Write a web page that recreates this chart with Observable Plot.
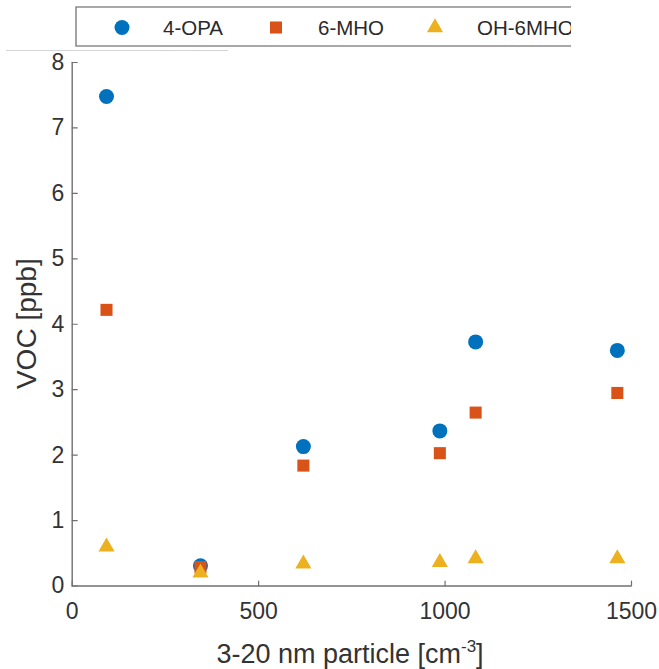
<!DOCTYPE html>
<html>
<head>
<meta charset="utf-8">
<script src="https://cdn.jsdelivr.net/npm/d3@7"></script>
<script src="https://cdn.jsdelivr.net/npm/@observablehq/plot@0.6"></script>
<style>
  html, body { margin: 0; padding: 0; background: #fff; }
  #chart { width: 659px; height: 669px; overflow: hidden; }
</style>
</head>
<body>
<div id="chart"></div>
<script>
// ---- data ----
const series = ["4-OPA", "6-MHO", "OH-6MHO"];
const seriesColors = ["#0072BD", "#D95319", "#EDB120"];
const particles = [92, 344, 620, 986, 1082, 1462];
const opa = [7.48, 0.31, 2.13, 2.37, 3.73, 3.60];
const mho = [4.22, 0.29, 1.84, 2.03, 2.65, 2.95];
const ohMho = [0.60, 0.20, 0.34, 0.36, 0.42, 0.42];
const xTicks = [0, 500, 1000, 1500];
const yTicks = [0, 1, 2, 3, 4, 5, 6, 7, 8];
const xTitle = "3-20 nm particle [cm";
const xTitleSup = "-3";
const yTitle = "VOC [ppb]";

// ---- build ----
const valueSets = [opa, mho, ohMho];
const sets = valueSets.map(vals => vals.map((v, i) => ({x: particles[i], y: v})));
const symbols = ["circle", "square", "triangle"];
const radii = [7.5, 6.8, 6.0];

const font = "'Liberation Sans', Arial, Helvetica, sans-serif";
const axisColor = "#707070";
const textColor = "#333";
const tickShape = {draw(ctx, l) { ctx.moveTo(0, 0); ctx.lineTo(0, -l); }};
const fmt = d => String(d);

const plot = Plot.plot({
  width: 659,
  height: 669,
  marginLeft: 71.7,
  marginRight: 28,
  marginTop: 62,
  marginBottom: 83.5,
  style: {fontFamily: font, background: "#fff"},
  x: {domain: [0, 1500]},
  y: {domain: [0, 8]},
  marks: [
    Plot.ruleX([0], {stroke: axisColor, strokeWidth: 1.4}),
    Plot.ruleY([0], {stroke: axisColor, strokeWidth: 1.4}),
    Plot.vector(yTicks, {x: 0, y: d => d, length: 5, rotate: 90, anchor: "start", shape: tickShape, stroke: axisColor, strokeWidth: 1.2}),
    Plot.vector(xTicks, {x: d => d, y: 0, length: 5, rotate: 0, anchor: "start", shape: tickShape, stroke: axisColor, strokeWidth: 1.2}),
    Plot.axisY(yTicks, {tickSize: 0, tickPadding: 8, fontSize: 23, fill: textColor, label: null, tickFormat: fmt}),
    Plot.axisX(xTicks, {tickSize: 0, tickPadding: 17, fontSize: 23, fill: textColor, label: null, tickFormat: fmt}),
    ...sets.map((d, i) => Plot.dot(d, {x: "x", y: "y", symbol: symbols[i], fill: seriesColors[i], r: radii[i], stroke: "none"}))
  ]
});

document.getElementById("chart").appendChild(plot);

const svg = d3.select(plot);

// faint line at top left
svg.append("line").attr("x1", 6).attr("x2", 228).attr("y1", 50.5).attr("y2", 50.5)
  .attr("stroke", "#d4d4d4").attr("stroke-width", 1);

// y title
svg.append("text")
  .attr("transform", "translate(36,323.7) rotate(-90)")
  .attr("text-anchor", "middle")
  .attr("font-family", font).attr("font-size", 28).attr("fill", textColor)
  .text(yTitle);

// x title with superscript
const xt = svg.append("text")
  .attr("x", 350).attr("y", 663)
  .attr("text-anchor", "middle")
  .attr("font-family", font).attr("font-size", 27).attr("fill", textColor);
xt.append("tspan").text(xTitle);
xt.append("tspan").attr("font-size", 17).attr("dy", -11).text(xTitleSup);
xt.append("tspan").attr("dy", 11).text("]");

// legend (clipped on the right like the reference)
const defs = svg.append("defs");
defs.append("clipPath").attr("id", "legclip").append("rect")
  .attr("x", 0).attr("y", 0).attr("width", 571).attr("height", 60);
const lg = svg.append("g").attr("clip-path", "url(#legclip)");
lg.append("rect").attr("x", 76).attr("y", 7).attr("width", 600).attr("height", 39)
  .attr("fill", "#fff").attr("stroke", "none");
lg.append("path").attr("d", "M700,7H76V46H700")
  .attr("fill", "none").attr("stroke", "#8c8c8c").attr("stroke-width", 1.6);
const legMarkerX = [122, 276, 435];
const legTextX = [163, 318, 477];
const d3syms = [d3.symbolCircle, d3.symbolSquare, d3.symbolTriangle];
series.forEach((name, i) => {
  const area = Math.PI * radii[i] * radii[i];
  lg.append("path")
    .attr("transform", `translate(${legMarkerX[i]},27.5)`)
    .attr("d", d3.symbol(d3syms[i], area)())
    .attr("fill", seriesColors[i]);
  lg.append("text")
    .attr("x", legTextX[i]).attr("y", 34.5)
    .attr("text-anchor", "start")
    .attr("font-family", font).attr("font-size", 20.5).attr("fill", "#2a2a2a")
    .text(name);
});
</script>
</body>
</html>
